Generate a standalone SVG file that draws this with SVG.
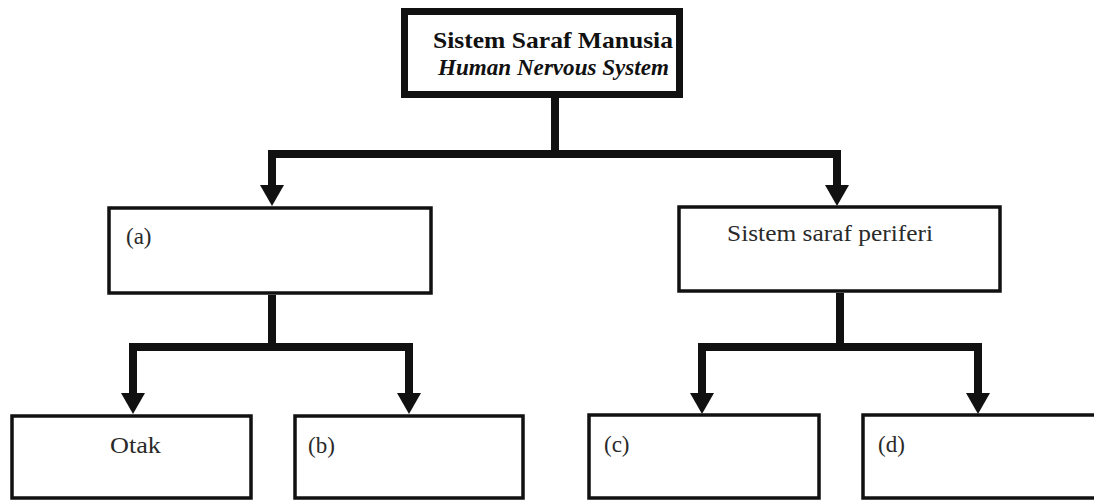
<svg xmlns="http://www.w3.org/2000/svg" xmlns:xlink="http://www.w3.org/1999/xlink" width="1094" height="500" viewBox="0 0 1094 500">
<style>
  .box { fill: #ffffff; stroke: #111111; stroke-width: 3.5; }
  .main { fill: #ffffff; stroke: #111111; stroke-width: 7; }
  .conn { fill: none; stroke: #111111; stroke-width: 8; stroke-linejoin: miter; stroke-linecap: butt; }
  .ah { fill: #111111; }
  .t { font-family: "Liberation Serif", "Times New Roman", serif; font-size: 23px; fill: #2a2a2a; }
  .tb { font-family: "Liberation Serif", "Times New Roman", serif; font-size: 23px; font-weight: bold; fill: #111111; }
</style>
<defs>
  <path id="ah" d="M-12,-21 L12,-21 L0,0 Z"/>
</defs>
<rect width="1094" height="500" fill="#ffffff"/>

<g id="connectors">
  <path class="conn" d="M555 98 V154 M272 187 V154 H837 V187"/>
  <path class="conn" d="M272 295 V347 M133 393 V347 H409 V393"/>
  <path class="conn" d="M840 293 V347 M702 393 V347 H978 V393"/>
  <use class="ah" xlink:href="#ah" x="272" y="206"/>
  <use class="ah" xlink:href="#ah" x="837" y="206"/>
  <use class="ah" xlink:href="#ah" x="133" y="414"/>
  <use class="ah" xlink:href="#ah" x="409" y="414"/>
  <use class="ah" xlink:href="#ah" x="702" y="414"/>
  <use class="ah" xlink:href="#ah" x="978" y="414"/>
</g>

<g id="node-root">
  <rect class="main" x="404.5" y="11.5" width="275" height="83"/>
  <text class="tb" x="433" y="48" textLength="240" lengthAdjust="spacingAndGlyphs">Sistem Saraf Manusia</text>
  <text class="tb" x="438" y="75" font-style="italic" textLength="231" lengthAdjust="spacingAndGlyphs">Human Nervous System</text>
</g>

<g id="node-a">
  <rect class="box" x="109" y="208" width="322" height="85"/>
  <text class="t" x="126" y="244">(a)</text>
</g>

<g id="node-periferi">
  <rect class="box" x="679" y="207" width="321" height="84"/>
  <text class="t" x="727" y="241" textLength="206" lengthAdjust="spacingAndGlyphs">Sistem saraf periferi</text>
</g>

<g id="node-otak">
  <rect class="box" x="12" y="416" width="239" height="82"/>
  <text class="t" x="110" y="453" textLength="51" lengthAdjust="spacingAndGlyphs">Otak</text>
</g>

<g id="node-b">
  <rect class="box" x="295" y="416" width="228" height="82"/>
  <text class="t" x="308" y="453">(b)</text>
</g>

<g id="node-c">
  <rect class="box" x="589" y="415" width="230" height="83"/>
  <text class="t" x="604" y="452">(c)</text>
</g>

<g id="node-d">
  <rect class="box" x="863" y="415" width="240" height="83"/>
  <text class="t" x="878" y="452">(d)</text>
</g>
</svg>
